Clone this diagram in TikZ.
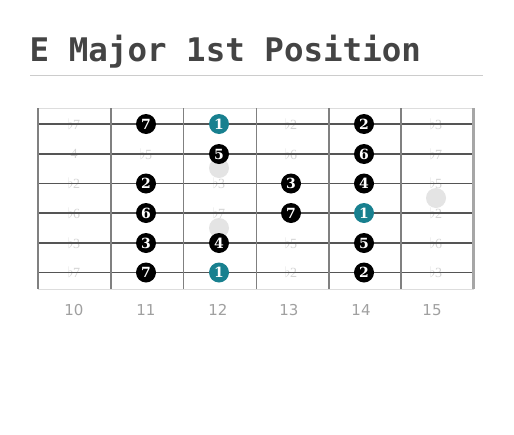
\documentclass[tikz,border=0pt]{standalone}
\usepackage{fontspec}
\setmainfont{DejaVu Serif}
\newfontfamily\titlefont{DejaVu Sans Mono}
\newfontfamily\numfont{DejaVu Sans}
\newfontfamily\dotfont{DejaVu Serif}
\newfontfamily\ivfont{Liberation Serif}
\definecolor{titlegray}{HTML}{444444}
\definecolor{rulegray}{HTML}{CCCCCC}
\definecolor{edgegray}{HTML}{DDDDDD}
\definecolor{fretgray}{HTML}{808080}
\definecolor{stringgray}{HTML}{555555}
\definecolor{ivgray}{HTML}{D4D4D4}
\definecolor{inlaygray}{HTML}{E4E4E4}
\definecolor{fretnum}{HTML}{A0A0A0}
\definecolor{rootteal}{HTML}{18808F}
\tikzset{
  notedot/.style={circle, fill=black, minimum size=20pt, inner sep=0pt, text=white, font=\dotfont\bfseries\fontsize{14}{14}\selectfont},
  rootdot/.style={notedot, fill=rootteal},
  ivlabel/.style={inner sep=0pt, text=ivgray, font=\ivfont\fontsize{14}{14}\selectfont},
  inlay/.style={circle, fill=inlaygray, minimum size=20pt, inner sep=0pt},
  fretno/.style={inner sep=0pt, text=fretnum, font=\numfont\fontsize{15}{15}\selectfont},
  fretline/.style={draw=fretgray, line width=1.8pt},
  stringline/.style={draw=stringgray, line width=1.2pt},
}
\begin{document}
\begin{tikzpicture}[x=1pt,y=-1pt]
\useasboundingbox (0,0) rectangle (514,434);
\fill[white] (0,0) rectangle (514,434);
% title
\node[anchor=base west, inner sep=0pt, text=titlegray, font=\titlefont\bfseries\fontsize{32.5}{32.5}\selectfont] (title) at (29.5,61) {E Major 1st Position};
\draw[rulegray, line width=1pt] (30,75.5) coordinate (r1) -- (483,75.5) coordinate (r2);
% board edges
\draw[edgegray, line width=1pt] (38,108.5) -- (474,108.5);
\draw[edgegray, line width=1pt] (38,289) -- (474,289);
% interval labels
\foreach \x/\y/\t [count=\i] in {
  74/124/$\flat$7, 74/154/4, 74/183/$\flat$2, 74/213/$\flat$6, 74/243/$\flat$3, 74/272/$\flat$7,
  146/154/$\flat$5, 219/183/$\flat$3, 219/213/$\flat$7,
  291/124/$\flat$2, 291/154/$\flat$6, 291/243/$\flat$5, 291/272/$\flat$2,
  436/124/$\flat$3, 436/154/$\flat$7, 436/183/$\flat$5, 436/213/$\flat$2, 436/243/$\flat$6, 436/272/$\flat$3}
  \node[ivlabel] (iv\i) at (\x,\y) {\t};
% inlays
\node[inlay] (inlayA) at (219,168) {};
\node[inlay] (inlayB) at (219,228) {};
\node[inlay] (inlayC) at (436,198) {};
% strings
\foreach \y [count=\i] in {124,154,183.5,213,243,272.5}
  \draw[stringline] (38,\y) coordinate (sL\i) -- (473,\y) coordinate (sR\i);
% frets
\foreach \x [count=\i] in {38,111,183.5,256.5,329,401}
  \draw[fretline] (\x,108) coordinate (fT\i) -- (\x,289) coordinate (fB\i);
\draw[draw=fretgray!70, line width=2.2pt] (473.5,108) coordinate (fT7) -- (473.5,289) coordinate (fB7);
% dots
\node[notedot] (d11a) at (146,124) {7};
\node[notedot] (d11c) at (146,183.5) {2};
\node[notedot] (d11d) at (146,213) {6};
\node[notedot] (d11e) at (146,243) {3};
\node[notedot] (d11f) at (146,272.5) {7};
\node[rootdot] (d12a) at (219,124) {1};
\node[notedot] (d12b) at (219,154) {5};
\node[notedot] (d12e) at (219,243) {4};
\node[rootdot] (d12f) at (219,272.5) {1};
\node[notedot] (d13c) at (291,183.5) {3};
\node[notedot] (d13d) at (291,213) {7};
\node[notedot] (d14a) at (364,124) {2};
\node[notedot] (d14b) at (364,154) {6};
\node[notedot] (d14c) at (364,183.5) {4};
\node[rootdot] (d14d) at (364,213) {1};
\node[notedot] (d14e) at (364,243) {5};
\node[notedot] (d14f) at (364,272.5) {2};
% fret numbers
\foreach \x/\n in {74/10,146/11,218/12,289/13,361/14,432/15}
  \node[fretno] (fn\n) at (\x,310) {\n};
\end{tikzpicture}
\end{document}
